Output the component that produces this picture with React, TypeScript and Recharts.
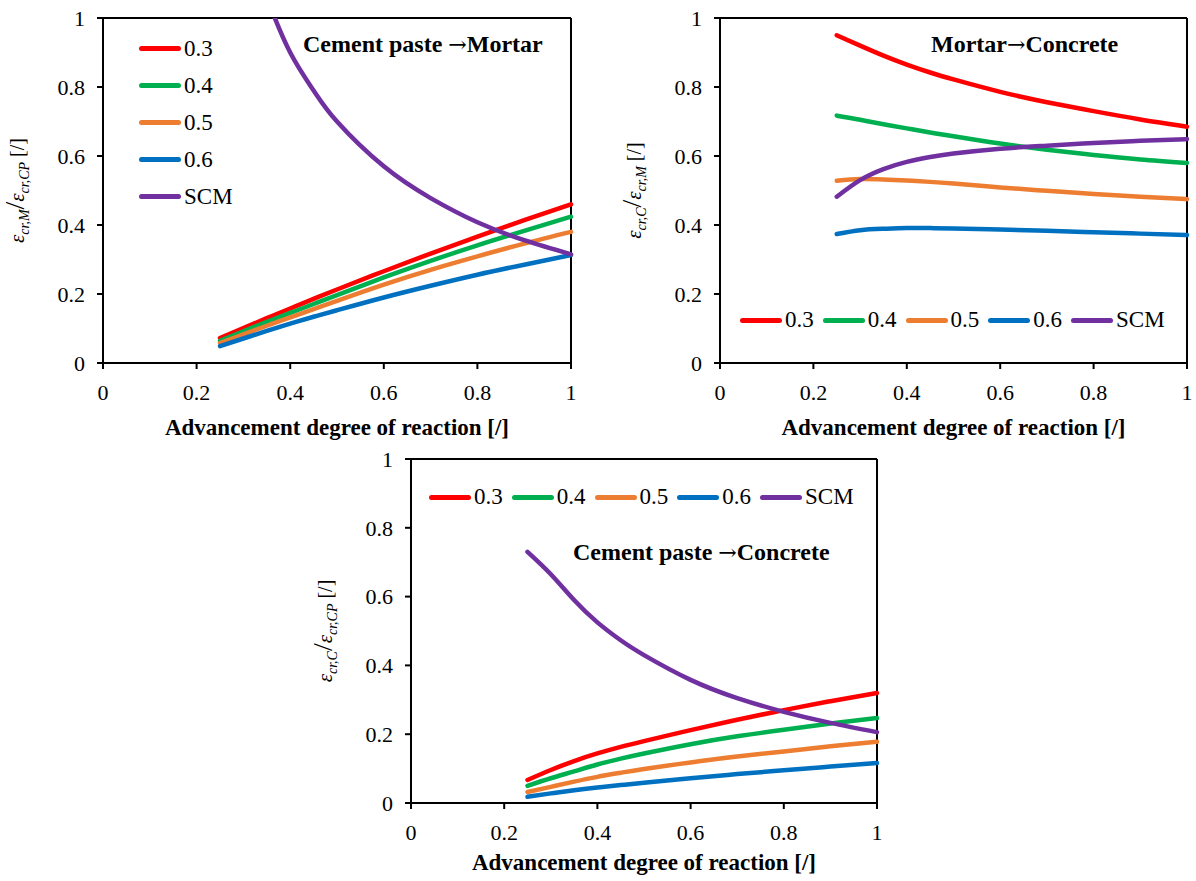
import { Legend, Line, LineChart, ReferenceLine, XAxis, YAxis } from 'recharts';

const FONT = '"Liberation Serif", "Times New Roman", serif';

// shared x positions (advancement degree of reaction)
const xValues = [0.25, 0.3, 0.35, 0.4, 0.45, 0.5, 0.6, 0.7, 0.8, 0.9, 1];
const xTicks = [0, 0.2, 0.4, 0.6, 0.8, 1];
const yTicks = [0, 0.2, 0.4, 0.6, 0.8, 1];
const seriesNames = ['0.3', '0.4', '0.5', '0.6', 'SCM'];
const seriesColors = ['#FF0000', '#00B050', '#ED7D31', '#0070C0', '#7030A0'];

// Cement paste -> Mortar
const pasteMortar03 = [0.072, 0.101, 0.13, 0.158, 0.186, 0.213, 0.266, 0.317, 0.366, 0.414, 0.46];
const pasteMortar04 = [0.064, 0.092, 0.119, 0.145, 0.171, 0.197, 0.248, 0.296, 0.341, 0.383, 0.424];
const pasteMortar05 = [0.058, 0.083, 0.108, 0.132, 0.156, 0.18, 0.227, 0.27, 0.309, 0.346, 0.38];
const pasteMortar06 = [0.049, 0.071, 0.093, 0.114, 0.134, 0.153, 0.19, 0.224, 0.256, 0.285, 0.313];
const pasteMortarScm = [1.57, 1.27, 1.06, 0.9, 0.79, 0.7, 0.57, 0.478, 0.408, 0.356, 0.315];

// Mortar -> Concrete
const mortarConcrete03 = [0.95, 0.92, 0.891, 0.865, 0.842, 0.822, 0.786, 0.756, 0.73, 0.706, 0.685];
const mortarConcrete04 = [0.717, 0.705, 0.692, 0.68, 0.668, 0.657, 0.636, 0.618, 0.603, 0.59, 0.58];
const mortarConcrete05 = [0.528, 0.533, 0.532, 0.529, 0.525, 0.52, 0.509, 0.499, 0.49, 0.482, 0.475];
const mortarConcrete06 = [0.374, 0.385, 0.389, 0.391, 0.391, 0.39, 0.387, 0.383, 0.379, 0.375, 0.371];
const mortarConcreteScm = [0.482, 0.53, 0.562, 0.583, 0.597, 0.607, 0.621, 0.63, 0.638, 0.644, 0.649];

// Cement paste -> Concrete
const pasteConcrete03 = [0.067, 0.096, 0.122, 0.144, 0.163, 0.18, 0.212, 0.242, 0.27, 0.296, 0.32];
const pasteConcrete04 = [0.05, 0.072, 0.092, 0.112, 0.129, 0.144, 0.171, 0.194, 0.213, 0.231, 0.247];
const pasteConcrete05 = [0.032, 0.047, 0.062, 0.076, 0.088, 0.099, 0.118, 0.135, 0.15, 0.165, 0.178];
const pasteConcrete06 = [0.018, 0.028, 0.037, 0.045, 0.052, 0.059, 0.072, 0.084, 0.095, 0.106, 0.116];
const pasteConcreteScm = [0.73, 0.665, 0.59, 0.525, 0.473, 0.43, 0.358, 0.305, 0.265, 0.233, 0.206];

const buildRows = (series: number[][]) =>
  xValues.map((x, i) => {
    const row: Record<string, number> = { x };
    series.forEach((s, k) => {
      row[`s${k}`] = s[i];
    });
    return row;
  });

const renderLegend = (vertical: boolean) => (props: any) => (
  <div style={{ display: 'flex', flexDirection: vertical ? 'column' : 'row' }}>
    {(props.payload || []).map((p: any) => (
      <div
        key={p.value}
        style={{
          display: 'flex',
          alignItems: 'center',
          height: vertical ? 37 : 26,
          marginRight: vertical ? 0 : 9,
        }}
      >
        <span style={{ display: 'inline-block', width: 42, height: 5, borderRadius: 3, background: p.color }} />
        <span style={{ marginLeft: 3, fontSize: 23, color: '#000', fontFamily: FONT, lineHeight: '26px' }}>
          {p.value}
        </span>
      </div>
    ))}
  </div>
);

const yTitle = (num: string, den: string) => (props: any) => {
  const { x, y, height } = props.viewBox;
  const cx = x + 24;
  const cy = y + height / 2;
  return (
    <text x={cx} y={cy} transform={`rotate(-90 ${cx} ${cy})`} textAnchor="middle" fontFamily={FONT} fill="#000">
      <tspan fontStyle="italic" fontSize={21}>ε</tspan>
      <tspan fontStyle="italic" fontSize={14} dy={5}>{`cr,${num}`}</tspan>
      <tspan fontSize={28} dy={-5}>/</tspan>
      <tspan fontStyle="italic" fontSize={21}>ε</tspan>
      <tspan fontStyle="italic" fontSize={14} dy={5}>{`cr,${den}`}</tspan>
      <tspan fontSize={20} dy={-5}>{'  [/]'}</tspan>
    </text>
  );
};

const xTitle = (offset: number) => (props: any) => {
  const { x, y, width } = props.viewBox;
  return (
    <text x={x + width / 2} y={y + offset} textAnchor="middle" fontFamily={FONT} fontWeight="bold" fontSize={23} fill="#000">
      Advancement degree of reaction [/]
    </text>
  );
};

interface PanelProps {
  left: number;
  top: number;
  width: number;
  height: number;
  plotHeight: number;
  rightMargin: number;
  rows: Record<string, number>[];
  num: string;
  den: string;
  titleOffset: number;
  verticalLegend: boolean;
  legendPos: { left: number; top: number };
  note: [string, string];
  notePos: { left: number; top: number };
}

function Panel(p: PanelProps) {
  const tickStyle = { fill: '#000', fontSize: 22, fontFamily: FONT };
  const axisStroke = { stroke: '#000', strokeWidth: 2 };
  return (
    <div style={{ position: 'absolute', left: p.left, top: p.top, width: p.width, height: p.height }}>
      <LineChart width={p.width} height={p.height} data={p.rows} margin={{ top: 18, right: p.rightMargin, bottom: 0, left: 0 }}>
        <XAxis
          dataKey="x"
          type="number"
          domain={[0, 1]}
          ticks={xTicks}
          tickFormatter={(v) => String(v)}
          tick={tickStyle}
          tickSize={6}
          tickMargin={15}
          axisLine={axisStroke}
          tickLine={axisStroke}
          height={p.height - 18 - p.plotHeight}
          label={xTitle(p.titleOffset)}
        />
        <YAxis
          type="number"
          domain={[0, 1]}
          allowDataOverflow
          ticks={yTicks}
          tickFormatter={(v) => String(v)}
          tick={tickStyle}
          tickSize={6}
          tickMargin={12}
          axisLine={axisStroke}
          tickLine={axisStroke}
          width={103}
          label={yTitle(p.num, p.den)}
        />
        <ReferenceLine y={1} stroke="#000" strokeWidth={2} />
        <ReferenceLine x={1} stroke="#000" strokeWidth={2} />
        <Legend
          layout="horizontal"
          verticalAlign="middle"
          align="center"
          content={renderLegend(p.verticalLegend)}
          wrapperStyle={{ left: p.legendPos.left, top: p.legendPos.top, width: 'auto', height: 'auto' }}
        />
        {seriesNames.map((name, k) => (
          <Line
            key={name}
            dataKey={`s${k}`}
            name={name}
            type="natural"
            stroke={seriesColors[k]}
            strokeWidth={4.5}
            strokeLinecap="round"
            dot={false}
            activeDot={false}
            isAnimationActive={false}
          />
        ))}
      </LineChart>
      <div
        style={{
          position: 'absolute',
          left: p.notePos.left,
          top: p.notePos.top,
          fontFamily: FONT,
          fontWeight: 'bold',
          fontSize: 24,
          lineHeight: '24px',
          whiteSpace: 'nowrap',
          color: '#000',
        }}
      >
        {p.note[0]}
        <span style={{ fontFamily: '"DejaVu Serif", serif', fontWeight: 'normal', fontSize: 22 }}>→</span>
        {p.note[1]}
      </div>
    </div>
  );
}

export default function App() {
  return (
    <div style={{ position: 'absolute', left: 0, top: 0, width: 1196, height: 881, background: '#fff', overflow: 'hidden' }}>
      <Panel
        left={0}
        top={0}
        width={600}
        height={455}
        plotHeight={345}
        rightMargin={29}
        rows={buildRows([pasteMortar03, pasteMortar04, pasteMortar05, pasteMortar06, pasteMortarScm])}
        num="M"
        den="CP"
        titleOffset={72}
        verticalLegend
        legendPos={{ left: 139, top: 30 }}
        note={['Cement paste ', 'Mortar']}
        notePos={{ left: 303, top: 32 }}
      />
      <Panel
        left={617}
        top={0}
        width={579}
        height={455}
        plotHeight={345}
        rightMargin={9}
        rows={buildRows([mortarConcrete03, mortarConcrete04, mortarConcrete05, mortarConcrete06, mortarConcreteScm])}
        num="C"
        den="M"
        titleOffset={72}
        verticalLegend={false}
        legendPos={{ left: 123, top: 307 }}
        note={['Mortar', 'Concrete']}
        notePos={{ left: 314, top: 32 }}
      />
      <Panel
        left={308}
        top={441}
        width={600}
        height={440}
        plotHeight={344}
        rightMargin={31}
        rows={buildRows([pasteConcrete03, pasteConcrete04, pasteConcrete05, pasteConcrete06, pasteConcreteScm])}
        num="C"
        den="CP"
        titleOffset={67}
        verticalLegend={false}
        legendPos={{ left: 121, top: 43 }}
        note={['Cement paste ', 'Concrete']}
        notePos={{ left: 265, top: 99 }}
      />
    </div>
  );
}
